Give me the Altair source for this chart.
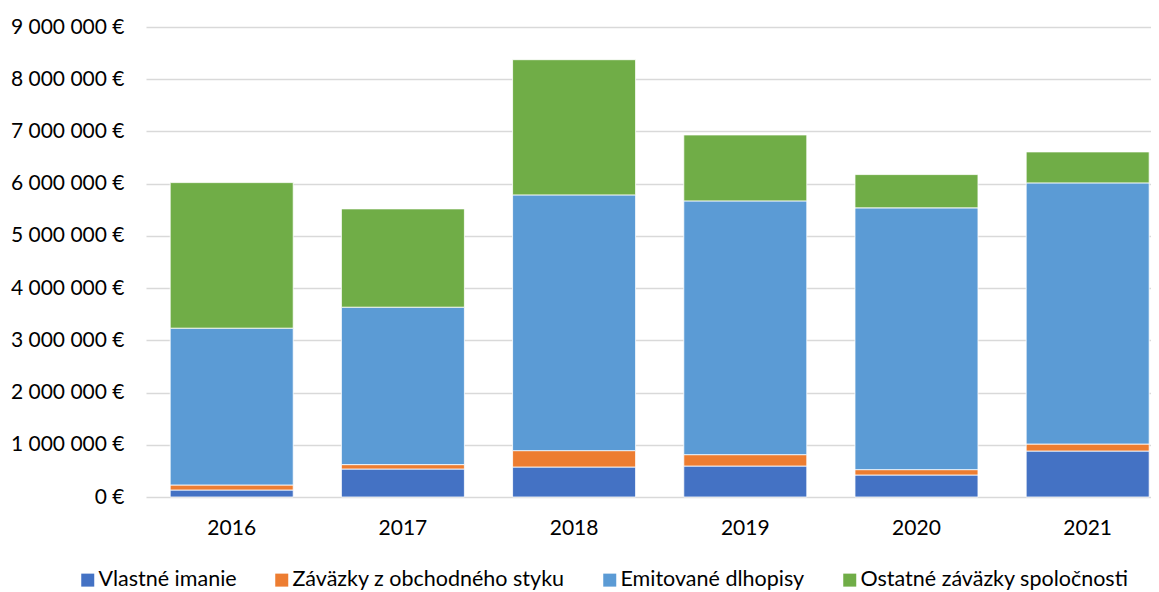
import altair as alt
import pandas as pd

years = ["2016", "2017", "2018", "2019", "2020", "2021"]
series = ["Vlastné imanie", "Záväzky z obchodného styku", "Emitované dlhopisy", "Ostatné záväzky spoločnosti"]
colors = ["#4472C4", "#ED7D31", "#5B9BD5", "#70AD47"]

vlastne_imanie = [134000, 536000, 574000, 593000, 421000, 880000]
zavazky_obchod = [96000, 84000, 314000, 218000, 103000, 134000]
emitovane_dlhopisy = [3003000, 3015000, 4897000, 4859000, 5013000, 5001000]
ostatne_zavazky = [2787000, 1882000, 2589000, 1263000, 637000, 593000]
y_ticks = [0, 1000000, 2000000, 3000000, 4000000, 5000000, 6000000, 7000000, 8000000, 9000000]

rows = []
for i, vals in enumerate([vlastne_imanie, zavazky_obchod, emitovane_dlhopisy, ostatne_zavazky]):
    for y, v in zip(years, vals):
        rows.append({"rok": y, "seria": series[i], "poradie": i, "hodnota": v})
df = pd.DataFrame(rows)

FONT = "Lato"
FS = 21
LFS = 21.5

chart = alt.Chart(df).mark_bar(stroke="white", strokeWidth=0.8).encode(
    x=alt.X("rok:N", sort=years,
            scale=alt.Scale(paddingInner=0.2815, paddingOuter=0.076, align=0.93),
            axis=alt.Axis(title=None, labelAngle=0, ticks=False, domain=False, grid=False,
                          labelPadding=20, labelFontSize=FS, labelColor="#000000", labelFont=FONT)),
    y=alt.Y("hodnota:Q", stack="zero",
            scale=alt.Scale(domain=[0, 9000000], nice=False),
            axis=alt.Axis(title=None, values=y_ticks, ticks=False, domain=False,
                          gridColor="#d9d9d9", gridWidth=1.3,
                          labelPadding=22, labelFontSize=FS, labelColor="#000000", labelFont=FONT,
                          labelExpr="datum.value == 0 ? '0 €' : format(datum.value / 1000000, 'd') + ' 000 000 €'")),
    color=alt.Color("seria:N",
                    scale=alt.Scale(domain=series, range=colors),
                    legend=alt.Legend(orient="none", legendX=-69, legendY=542, direction="horizontal",
                                      title=None, symbolType="square", symbolSize=169,
                                      symbolStrokeWidth=0, labelFontSize=LFS, labelFont=FONT,
                                      labelColor="#000000", columnPadding=34, labelOffset=0,
                                      labelLimit=0, padding=0)),
    order=alt.Order("poradie:Q"),
).properties(
    width=1005, height=470,
    autosize=alt.AutoSizeParams(type="none"),
    padding={"left": 138, "top": 19, "right": 0, "bottom": 94},
).configure_view(stroke=None)

chart.save("out.html", embed_options={"renderer": "svg", "actions": False})
